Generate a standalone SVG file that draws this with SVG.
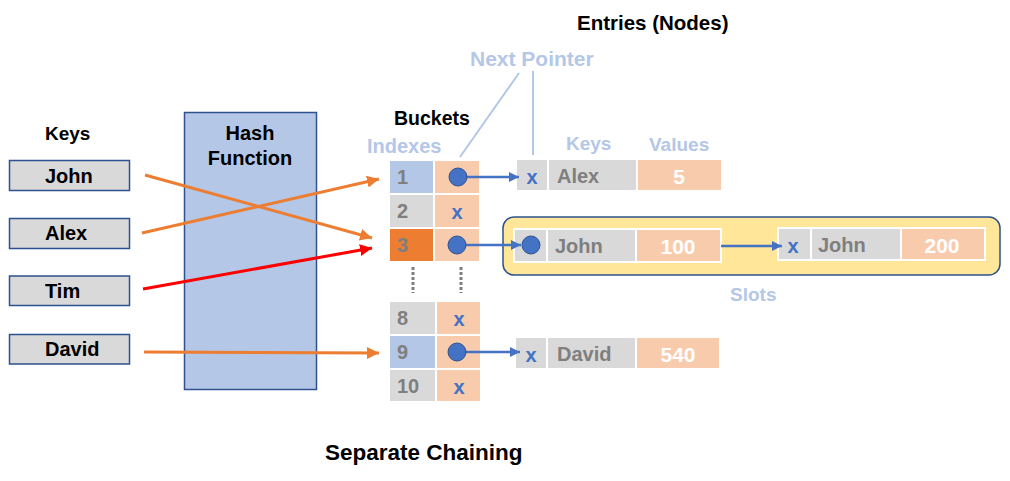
<svg xmlns="http://www.w3.org/2000/svg" width="1010" height="481" viewBox="0 0 1010 481">
<style>
text{font-family:"Liberation Sans",Arial,sans-serif;font-weight:bold;dominant-baseline:central}
.t{font-size:20px;fill:#000}
.lb{fill:#B4C7E7;font-size:19px}
.g{fill:#7F7F7F;font-size:20px}
.bx{fill:#4472C4;font-size:20px;text-anchor:middle}
.w{fill:#fff;font-size:21px;text-anchor:middle}
.kb{fill:#D9D9D9;stroke:#2F528F;stroke-width:1.5}
.c{stroke:#fff;stroke-width:2}
.gr{fill:#D9D9D9}
.pe{fill:#F8CBAD}
.bl{fill:#B4C7E7}
.or{fill:#ED7D31}
.dot{fill:#4472C4;stroke:#2F528F;stroke-width:1}
.pa{stroke:#4472C4;stroke-width:2.5;fill:none}
.oa{stroke:#ED7D31;stroke-width:3;fill:none}
.ra{stroke:#FF0000;stroke-width:3;fill:none}
.ln{stroke:#B4C7E7;stroke-width:2;fill:none}
.dd{stroke:#7F7F7F;stroke-width:3;stroke-dasharray:3 2;fill:none}
</style>
<defs>
<marker id="mo" markerUnits="userSpaceOnUse" markerWidth="14" markerHeight="12" refX="12" refY="6" orient="auto"><path d="M0,0 L12,6 L0,12 Z" fill="#ED7D31"/></marker>
<marker id="mr" markerUnits="userSpaceOnUse" markerWidth="14" markerHeight="12" refX="12" refY="6" orient="auto"><path d="M0,0 L12,6 L0,12 Z" fill="#FF0000"/></marker>
<marker id="mb" markerUnits="userSpaceOnUse" markerWidth="12" markerHeight="10" refX="10" refY="5" orient="auto"><path d="M0,0 L10,5 L0,10 Z" fill="#4472C4"/></marker>
</defs>

<rect width="1010" height="481" fill="#fff"/>

<g id="titles">
<text class="t" x="577" y="22" style="font-size:20.5px">Entries (Nodes)</text>
<text class="t" x="325" y="452" style="font-size:22.5px">Separate Chaining</text>
<text class="t" x="45" y="133" style="font-size:19px">Keys</text>
<text class="t" x="394" y="118" style="font-size:19.5px">Buckets</text>
<text class="lb" x="367" y="146" style="font-size:20px">Indexes</text>
<text class="lb" x="470" y="58" style="font-size:21px">Next Pointer</text>
<text class="lb" x="566" y="143">Keys</text>
<text class="lb" x="649" y="144">Values</text>
<text class="lb" x="730" y="294">Slots</text>
</g>

<g id="key-john"><rect class="kb" x="9.5" y="160.5" width="120" height="30"/><text class="t" x="45" y="176">John</text></g>
<g id="key-alex"><rect class="kb" x="9.5" y="218.5" width="120" height="30"/><text class="t" x="45" y="233">Alex</text></g>
<g id="key-tim"><rect class="kb" x="9.5" y="276" width="120" height="29.5"/><text class="t" x="45" y="291">Tim</text></g>
<g id="key-david"><rect class="kb" x="9.5" y="334.5" width="120" height="29.5"/><text class="t" x="45" y="349">David</text></g>

<g id="hash-function">
<rect x="184.5" y="112.5" width="132" height="277" fill="#B4C7E7" stroke="#2F528F" stroke-width="1.5"/>
<text class="t" x="250" y="133" text-anchor="middle">Hash</text>
<text class="t" x="250" y="158" text-anchor="middle">Function</text>
</g>

<g id="slots">
<rect x="503" y="217" width="497" height="58" rx="11" fill="#FFE699" stroke="#2F528F" stroke-width="1.5"/>
</g>

<g id="buckets">
<rect class="bl c" x="389" y="160" width="45" height="34"/><rect class="pe c" x="434" y="160" width="46" height="34"/>
<text class="g" x="397" y="177">1</text>
<rect class="gr c" x="389" y="194" width="45" height="34"/><rect class="pe c" x="434" y="194" width="46" height="34"/>
<text class="g" x="397" y="211">2</text><text class="bx" x="457" y="212">x</text>
<rect class="or c" x="389" y="228" width="45" height="34"/><rect class="pe c" x="434" y="228" width="46" height="34"/>
<text class="g" x="397" y="245">3</text>
<rect class="gr c" x="389" y="301" width="47" height="34"/><rect class="pe c" x="436" y="301" width="45" height="34"/>
<text class="g" x="397" y="318">8</text><text class="bx" x="459" y="319">x</text>
<rect class="bl c" x="389" y="335" width="47" height="34"/><rect class="pe c" x="436" y="335" width="45" height="34"/>
<text class="g" x="397" y="352">9</text>
<rect class="gr c" x="389" y="369" width="47" height="33"/><rect class="pe c" x="436" y="369" width="45" height="33"/>
<text class="g" x="397" y="386">10</text><text class="bx" x="459" y="387">x</text>
<line class="dd" x1="413" y1="267" x2="413" y2="293"/>
<line class="dd" x1="461" y1="267" x2="461" y2="293"/>
</g>

<g id="node-alex">
<rect class="gr c" x="516" y="159" width="32" height="32"/><rect class="gr c" x="548" y="159" width="89" height="32"/><rect class="pe c" x="637" y="159" width="85" height="32"/>
<text class="bx" x="532" y="177">x</text><text class="g" x="557" y="176">Alex</text><text class="w" x="679" y="176">5</text>
</g>

<g id="node-john-100">
<rect class="gr c" x="514" y="229" width="33" height="33"/><rect class="gr c" x="547" y="229" width="89" height="33"/><rect class="pe c" x="636" y="229" width="85" height="33"/>
<circle class="dot" cx="531" cy="245" r="9"/><text class="g" x="555" y="246">John</text><text class="w" x="678" y="246">100</text>
</g>

<g id="node-john-200">
<rect class="gr c" x="778" y="228" width="33" height="32"/><rect class="gr c" x="811" y="228" width="90" height="32"/><rect class="pe c" x="901" y="228" width="84" height="32"/>
<text class="bx" x="793" y="246">x</text><text class="g" x="818" y="245">John</text><text class="w" x="942" y="245">200</text>
</g>

<g id="node-david">
<rect class="gr c" x="515" y="337" width="32" height="32"/><rect class="gr c" x="547" y="337" width="89" height="32"/><rect class="pe c" x="636" y="337" width="84" height="32"/>
<text class="bx" x="531" y="355">x</text><text class="g" x="557" y="354">David</text><text class="w" x="678" y="354">540</text>
</g>

<g id="connectors">
<line class="oa" x1="145" y1="175" x2="372" y2="238" marker-end="url(#mo)"/>
<line class="oa" x1="142" y1="233" x2="379" y2="179" marker-end="url(#mo)"/>
<line class="ra" x1="143" y1="289" x2="372" y2="248" marker-end="url(#mr)"/>
<line class="oa" x1="144" y1="352" x2="379" y2="353" marker-end="url(#mo)"/>
<line class="pa" x1="458" y1="177" x2="519" y2="177" marker-end="url(#mb)"/>
<line class="pa" x1="457" y1="245" x2="521" y2="245" marker-end="url(#mb)"/>
<line class="pa" x1="457" y1="352" x2="520" y2="352" marker-end="url(#mb)"/>
<line class="pa" x1="721" y1="246" x2="782" y2="246" marker-end="url(#mb)"/>
<line class="ln" x1="519" y1="73" x2="460" y2="157"/>
<line class="ln" x1="533" y1="71" x2="533" y2="155"/>
<circle class="dot" cx="458" cy="177" r="9"/>
<circle class="dot" cx="457" cy="245" r="9"/>
<circle class="dot" cx="457" cy="352" r="9"/>
</g>
</svg>
